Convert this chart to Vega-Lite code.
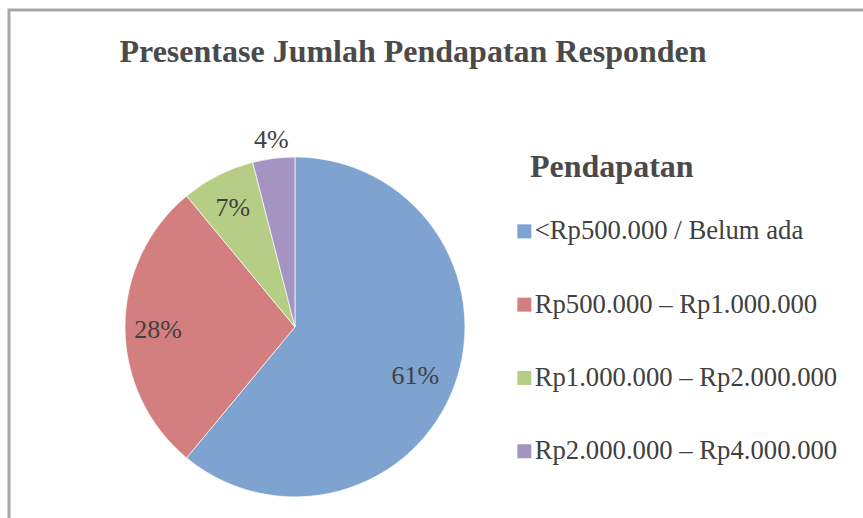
{
  "$schema": "https://vega.github.io/schema/vega-lite/v6.json",
  "width": 858,
  "height": 512,
  "padding": {"left": 9, "top": 10, "right": -4, "bottom": -4},
  "autosize": {"type": "none"},
  "background": "#ffffff",
  "config": {
    "view": {"stroke": "#a8a8a8", "strokeWidth": 3},
    "font": "Liberation Serif"
  },
  "title": {
    "text": "Presentase Jumlah Pendapatan Responden",
    "font": "Liberation Serif",
    "fontSize": 32,
    "fontWeight": "bold",
    "color": "#4a4a4a",
    "anchor": "middle",
    "frame": "group",
    "dx": -25,
    "offset": -59
  },
  "data": {
    "values": [
      {"kategori": "<Rp500.000 / Belum ada", "pct": 0.61},
      {"kategori": "Rp500.000 – Rp1.000.000", "pct": 0.28},
      {"kategori": "Rp1.000.000 – Rp2.000.000", "pct": 0.07},
      {"kategori": "Rp2.000.000 – Rp4.000.000", "pct": 0.04}
    ]
  },
  "encoding": {
    "x": {"datum": 0.3333, "type": "quantitative", "scale": {"domain": [0, 1]}, "axis": null},
    "y": {"datum": 0.381, "type": "quantitative", "scale": {"domain": [0, 1]}, "axis": null},
    "theta": {"field": "pct", "type": "quantitative", "stack": true},
    "order": {"field": "pct", "sort": "descending"}
  },
  "layer": [
    {
      "mark": {"type": "arc", "outerRadius": 170, "stroke": "#ffffff", "strokeWidth": 0.7},
      "encoding": {
        "color": {
          "field": "kategori",
          "type": "nominal",
          "scale": {
            "domain": ["<Rp500.000 / Belum ada", "Rp500.000 – Rp1.000.000", "Rp1.000.000 – Rp2.000.000", "Rp2.000.000 – Rp4.000.000"],
            "range": ["#7ea3d0", "#d47f7f", "#b5cd85", "#a593c2"]
          },
          "legend": {
            "title": "Pendapatan",
            "orient": "none",
            "legendX": 521,
            "legendY": 142,
            "padding": 0,
            "titleFont": "Liberation Serif",
            "titleFontSize": 32,
            "titleFontWeight": "bold",
            "titleColor": "#4a4a4a",
            "titlePadding": 34,
            "titleLimit": 400,
            "labelFont": "Liberation Serif",
            "labelFontSize": 26.7,
            "labelColor": "#404040",
            "labelLimit": 400,
            "labelOffset": -3,
            "symbolType": "square",
            "symbolSize": 196,
            "symbolStrokeWidth": 0,
            "symbolOffset": -19,
            "rowPadding": 45.3
          }
        }
      }
    },
    {
      "mark": {"type": "text", "radius": 128, "dy": 6, "font": "Liberation Serif", "fontSize": 26, "color": "#404040", "baseline": "middle", "align": "center"},
      "encoding": {"text": {"condition": {"test": "datum.pct < 0.5", "value": ""}, "field": "pct", "type": "quantitative", "format": ".0%"}}
    },
    {
      "mark": {"type": "text", "radius": 137, "dy": 3, "font": "Liberation Serif", "fontSize": 26, "color": "#404040", "baseline": "middle", "align": "center"},
      "encoding": {"text": {"condition": {"test": "datum.pct >= 0.5 || datum.pct < 0.05", "value": ""}, "field": "pct", "type": "quantitative", "format": ".0%"}}
    },
    {
      "mark": {"type": "text", "radius": 188, "font": "Liberation Serif", "fontSize": 26, "color": "#404040", "baseline": "middle", "align": "center"},
      "encoding": {"text": {"condition": {"test": "datum.pct >= 0.05", "value": ""}, "field": "pct", "type": "quantitative", "format": ".0%"}}
    }
  ]
}
